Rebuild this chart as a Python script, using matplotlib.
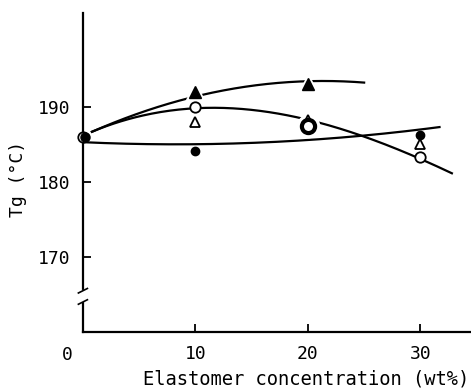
import numpy as np
import matplotlib
matplotlib.use("Agg")
import matplotlib.pyplot as plt

# measured Tg values (deg C) vs elastomer concentration (wt%)
conc = [0, 10, 20, 30]
filled_circle = [186.0, 184.1, 187.6, 186.3]
open_circle = [186.0, 190.0, 187.5, 183.3]
open_triangle = [188.0, 188.3, 185.0]
open_triangle_x = [10, 20, 30]
filled_triangle = [192.0, 193.0]
filled_triangle_x = [10, 20]

# hand drawn trend curves (knots)
curve_a_x = [0.8, 10, 20, 25]
curve_a_y = [186.6, 191.6, 193.1, 193.4]
curve_b_x = [0.8, 5, 11, 20, 25, 30, 32.8]
curve_b_y = [186.6, 188.9, 189.8, 188.2, 186.0, 183.3, 181.0]
curve_c_x = [0, 10, 20, 31.7]
curve_c_y = [185.3, 185.0, 185.6, 187.3]

font = "DejaVu Sans Mono"
plt.rcParams["font.family"] = font

fig = plt.figure(figsize=(4.71, 3.89), dpi=100)
ax = fig.add_axes([0.176, 0.1465, 0.824, 0.82])

def smooth(xk, yk, deg, x0, x1):
    c = np.polyfit(xk, yk, deg)
    xs = np.linspace(x0, x1, 200)
    return xs, np.polyval(c, xs)

lw = 1.6
xs, ys = smooth(curve_c_x, curve_c_y, 2, curve_c_x[0], curve_c_x[-1])
ax.plot(xs, ys, color="black", lw=lw, zorder=2)
xs, ys = smooth(curve_b_x, curve_b_y, 3, curve_b_x[0], curve_b_x[-1])
ax.plot(xs, ys, color="black", lw=lw, zorder=2)
xs, ys = smooth(curve_a_x, curve_a_y, 2, curve_a_x[0], curve_a_x[-1])
ax.plot(xs, ys, color="black", lw=lw, zorder=2)

# white halos to break the lines around markers
ax.plot(filled_triangle_x, filled_triangle, "^", ms=15, color="white", zorder=3)
ax.plot([20], [open_circle[2]], "o", ms=16, color="white", zorder=3)

ax.plot(conc, filled_circle, "o", ms=6, color="black", zorder=5, clip_on=False)
ax.plot(conc[:2] + conc[3:], open_circle[:2] + open_circle[3:], "o", ms=7.5,
        mfc="white", mec="black", mew=1.3, zorder=6, clip_on=False)
ax.plot([20], [open_circle[2]], "o", ms=9.5, mfc="white", mec="black", mew=3, zorder=6)
ax.plot(open_triangle_x, open_triangle, "^", ms=7.5, mfc="white", mec="black", mew=1.3, zorder=4)
ax.plot(filled_triangle_x, filled_triangle, "^", ms=8, color="black", zorder=5)
# filled circle at 0 sits on top of the open one
ax.plot([0.15], [filled_circle[0]], "o", ms=6.5, color="black", zorder=7, clip_on=False)

ax.set_xlim(0, 34.5)
ax.set_ylim(160, 202.5)
ax.spines["top"].set_visible(False)
ax.spines["right"].set_visible(False)
ax.spines["left"].set_linewidth(1.6)
ax.spines["bottom"].set_linewidth(1.6)

ax.set_xticks([10, 20, 30])
ax.set_yticks([170, 180, 190])
ax.tick_params(direction="in", length=6, width=1.3, labelsize=13)
ax.tick_params(axis="x", pad=9)
ax.tick_params(axis="y", pad=9)
ax.text(-1.4, -0.045, "0", transform=ax.get_xaxis_transform(), ha="center", va="top",
        fontsize=13, clip_on=False)

# axis break on the y axis
ax.plot([0, 0], [164.2, 165.3], color="white", lw=3, zorder=7, clip_on=False)
for yb in (164.0, 165.5):
    ax.plot([-0.4, 0.4], [yb - 0.3, yb + 0.3], color="black", lw=1.2, zorder=8, clip_on=False)

fig.text(0.65, 0.026, "Elastomer concentration (wt%)", fontsize=13.5, ha="center", va="center")
ax.set_ylabel("Tg (°C)", fontsize=13, labelpad=8, y=0.48)

fig.savefig("out.png", dpi=100)
